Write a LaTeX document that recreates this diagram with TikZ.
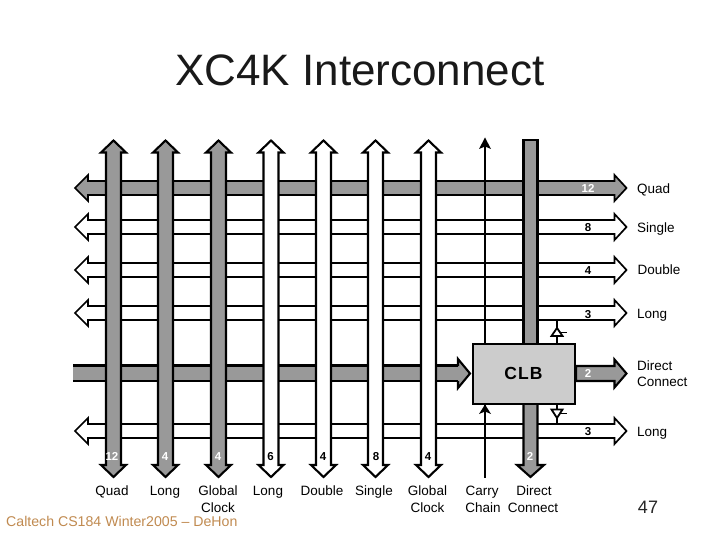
\documentclass[tikz,border=0pt]{standalone}
\usepackage{fontspec}
\setmainfont{Liberation Sans}
\definecolor{busgray}{HTML}{999999}
\definecolor{clbgray}{HTML}{CCCCCC}
\definecolor{footcol}{HTML}{C08A50}
\tikzset{
  busline/.style={draw=black,line width=2.1pt,line join=miter,miter limit=10},
  hline/.style={draw=black,line width=1.7pt,line join=miter,miter limit=10},
  lab/.style={font=\fontsize{13.5}{15}\selectfont,inner sep=0pt,anchor=base,text=black},
  labw/.style={lab,anchor=base west},
  cnt/.style={font=\bfseries\fontsize{11.5}{12}\selectfont,inner sep=0pt,anchor=base},
}
% vertical bus, both heads: x, fill
\newcommand{\vbus}[2]{%
  \path[fill=#2,busline] (#1-7.5,465) -- (#1-7.5,152.5) -- (#1-12.5,152.5) -- (#1,140.5) -- (#1+12.5,152.5) -- (#1+7.5,152.5)
    -- (#1+7.5,465) -- (#1+12.5,465) -- (#1,477) -- (#1-12.5,465) -- cycle;}
% horizontal bus, both heads: y, fill
\newcommand{\hbus}[2]{%
  \path[fill=#2,hline] (88,#1-7) -- (614.5,#1-7) -- (614.5,#1-13) -- (626.5,#1) -- (614.5,#1+13) -- (614.5,#1+7)
    -- (88,#1+7) -- (88,#1+13) -- (75,#1) -- (88,#1-13) -- cycle;}
\begin{document}
\begin{tikzpicture}[x=1pt,y=-1pt]
\useasboundingbox (0,0) rectangle (720,540);
\node[inner sep=0pt,font=\fontsize{44}{48}\selectfont,text=black!90] (title) at (360,70) {XC4K Interconnect};
% horizontal buses
\hbus{188}{busgray}
\hbus{227}{white}
\hbus{270}{white}
\hbus{313}{white}
\hbus{431}{white}
% direct connect bar
\path[fill=busgray] (73,366) rectangle (458,381);
\path[fill=busgray,busline] (458,366) -- (458,359) -- (470,373.5) -- (458,388) -- (458,381);
\draw[busline] (73,365.5) -- (458,365.5) (73,381) -- (458,381);
\path[fill=busgray,busline] (576,366) -- (614.5,366) -- (614.5,359.5) -- (626.5,373.5) -- (614.5,387.5) -- (614.5,381) -- (576,381) -- cycle;
% carry chain
\coordinate (carrytop) at (485,139);
\coordinate (carrybot) at (485,478);
\draw[line width=2.6pt] (carrytop) -- (carrybot);
\path[fill=black] (485,137.5) -- (491,149) -- (485,146.5) -- (479,149) -- cycle;
% direct connect vertical
\path[fill=busgray,busline] (523.5,140) rectangle (537.5,350);
\path[fill=busgray,busline] (523.5,400) -- (523.5,465) -- (517,465) -- (530.5,477) -- (544,465) -- (537.5,465) -- (537.5,400);
% vertical buses
\vbus{113.5}{busgray}
\vbus{165.5}{busgray}
\vbus{218.5}{busgray}
\vbus{271}{white}
\vbus{323.5}{white}
\vbus{375.5}{white}
\vbus{428.5}{white}
% CLB
\node[draw=black,line width=2pt,fill=clbgray,minimum width=102pt,minimum height=60pt,inner sep=0pt,
  font=\bfseries\fontsize{17.5}{18}\selectfont\addfontfeature{LetterSpace=6}] (clb) at (523.5,373.5) {CLB};
\path[fill=black] (485,404.5) -- (491,414) -- (485,411.5) -- (479,414) -- cycle;
% tristate drivers
\coordinate (longa) at (557,320);
\coordinate (longb) at (557,423);
\draw[line width=1.8pt] (longa) -- (clb.north -| longa);
\draw[line width=1.8pt] (clb.south -| longb) -- (longb);
\path[fill=white,draw=black,line width=1.8pt] (557,328) -- (551.5,336) -- (562.5,336) -- cycle;
\draw[line width=1.8pt] (559.5,332.5) -- (566.5,332.5);
\path[fill=white,draw=black,line width=1.8pt] (557,418) -- (551.5,409.5) -- (562.5,409.5) -- cycle;
\draw[line width=1.8pt] (559.5,413.5) -- (566.5,413.5);
% counts
\node[cnt,text=white] (c1) at (112,460) {12};
\node[cnt,text=white] (c2) at (165,460) {4};
\node[cnt,text=white] (c3) at (218,460) {4};
\node[cnt] (c4) at (270.5,460) {6};
\node[cnt] (c5) at (323,460) {4};
\node[cnt] (c6) at (376,460) {8};
\node[cnt] (c7) at (428,460) {4};
\node[cnt,text=white] (c8) at (530,460) {2};
\node[cnt,text=white] (r1) at (588,193) {12};
\node[cnt] (r2) at (588,232) {8};
\node[cnt] (r3) at (588,274) {4};
\node[cnt] (r4) at (588,318) {3};
\node[cnt,text=white] (r5) at (588,377) {2};
\node[cnt] (r6) at (588,435.5) {3};
% right labels
\node[labw] (q) at (637,193.5) {Quad};
\node[labw] (s) at (637,233) {Single};
\node[labw] (d) at (637.5,274.5) {Double};
\node[labw] (l) at (637,318) {Long};
\node[labw] (dc) at (637,370) {Direct};
\node[labw] (dcb) at (637,386.5) {Connect};
\node[labw] (l2) at (637,436) {Long};
% bottom labels
\node[lab] (b1) at (112,495) {Quad};
\node[lab] (b2) at (165,495) {Long};
\node[lab] (b3) at (218,495) {Global};
\node[lab] (b3b) at (218,512) {Clock};
\node[lab] (b4) at (268,495) {Long};
\node[lab] (b5) at (322,495) {Double};
\node[lab] (b6) at (374,495) {Single};
\node[lab] (b7) at (427.5,495) {Global};
\node[lab] (b7b) at (427.5,512) {Clock};
\node[lab] (b8) at (482,495) {Carry};
\node[lab] (b8b) at (483,512) {Chain};
\node[lab] (b9) at (534,495) {Direct};
\node[lab] (b9b) at (533,512) {Connect};
\node[inner sep=0pt,font=\fontsize{18}{20}\selectfont,text=black!85] (page) at (648,507) {47};
\node[inner sep=0pt,anchor=west,font=\fontsize{14.15}{16}\selectfont,text=footcol] (foot) at (6,521) {Caltech CS184 Winter2005 -- DeHon};
\end{tikzpicture}
\end{document}
